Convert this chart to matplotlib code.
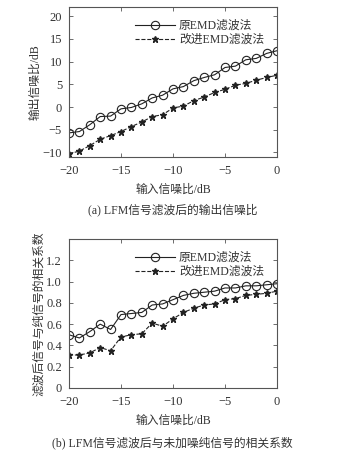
import matplotlib
matplotlib.use("Agg")
import matplotlib.pyplot as plt
import numpy as np

plt.rcParams['font.family'] = ['Liberation Serif', 'Noto Sans CJK SC']
plt.rcParams['axes.unicode_minus'] = True

snr_in = [-20, -19, -18, -17, -16, -15, -14, -13, -12, -11, -10,
          -9, -8, -7, -6, -5, -4, -3, -2, -1, 0]

snr_orig = [-5.7, -5.4, -3.9, -2.1, -2.0, -0.4, -0.1, 0.7, 2.0, 2.6, 4.0,
            4.5, 5.8, 6.5, 7.1, 8.7, 9.0, 10.4, 10.7, 11.8, 12.4]
snr_impr = [-10.3, -9.7, -8.5, -7.1, -6.3, -5.4, -4.3, -3.3, -2.1, -1.7, -0.2,
            0.2, 1.4, 2.2, 3.2, 3.9, 4.8, 5.2, 5.9, 6.5, 7.0]

corr_orig = [0.50, 0.47, 0.53, 0.60, 0.55, 0.69, 0.70, 0.71, 0.78, 0.79, 0.83,
             0.87, 0.89, 0.90, 0.91, 0.94, 0.94, 0.96, 0.96, 0.97, 0.98]
corr_impr = [0.31, 0.31, 0.33, 0.38, 0.35, 0.48, 0.50, 0.51, 0.61, 0.58, 0.65,
             0.71, 0.75, 0.78, 0.79, 0.83, 0.84, 0.87, 0.88, 0.89, 0.91]

labels = ['原EMD滤波法', '改进EMD滤波法']
xticks = [-20, -15, -10, -5, 0]
yticks_a = [-10, -5, 0, 5, 10, 15, 20]
yticks_b = [0, 0.2, 0.4, 0.6, 0.8, 1.0, 1.2]
ytick_labels_b = ['0', '0.2', '0.4', '0.6', '0.8', '1.0', '1.2']

fc = '#333333'
fs = 8.5
tfs = 9

fig = plt.figure(figsize=(3.45, 4.57), dpi=100)
ax1 = fig.add_axes([0.2, 0.6565, 0.603, 0.328])
ax2 = fig.add_axes([0.2, 0.151, 0.603, 0.326])

def style(ax):
    for s in ax.spines.values():
        s.set_color('#555555')
        s.set_linewidth(0.8)
    ax.tick_params(direction='in', top=True, right=True, length=3,
                   width=0.6, colors='#555555', labelcolor=fc, labelsize=tfs)
    ax.tick_params(axis='x', pad=6)
    ax.tick_params(axis='y', pad=5)
    ax.set_xlim(-20, 0)
    ax.set_xticks(xticks)
    ax.set_xticklabels(['\u221220', '\u221215', '\u221210', '\u22125', '0'])

# (a)
ax1.plot(snr_in, snr_orig, '-', color='#222222', lw=0.8, marker='o',
         mfc='none', mec='#222222', ms=6, mew=0.8, label=labels[0])
ax1.plot(snr_in, snr_impr, '--', color='#222222', lw=0.8, marker='*',
         mfc='#222222', mec='#222222', ms=5, label=labels[1])
style(ax1)
ax1.set_ylim(-11, 22)
ax1.set_yticks(yticks_a)
ax1.set_yticklabels(['\u221210', '\u22125', '0', '5', '10', '15', '20'])
ax1.set_xlabel('输入信噪比/dB', fontsize=fs, color=fc, labelpad=5)
ax1.set_ylabel('输出信噪比/dB', fontsize=fs, color=fc, labelpad=1)
ax1.legend(loc='upper right', frameon=False, fontsize=fs, handlelength=3.4,
           labelcolor=fc, borderaxespad=0.7, handletextpad=0.3,
           labelspacing=0.15)
fig.text(0.5, 1 - 210 / 457, '(a) LFM信号滤波后的输出信噪比', ha='center',
         va='center', fontsize=fs, color=fc)

# (b)
ax2.plot(snr_in, corr_orig, '-', color='#222222', lw=0.8, marker='o',
         mfc='none', mec='#222222', ms=6, mew=0.8, label=labels[0])
ax2.plot(snr_in, corr_impr, '--', color='#222222', lw=0.8, marker='*',
         mfc='#222222', mec='#222222', ms=5, label=labels[1])
style(ax2)
ax2.set_ylim(0, 1.4)
ax2.set_yticks(yticks_b)
ax2.set_yticklabels(ytick_labels_b)
ax2.set_xlabel('输入信噪比/dB', fontsize=fs, color=fc, labelpad=5)
ax2.set_ylabel('滤波后信号与纯信号的相关系数', fontsize=fs, color=fc, labelpad=1)
ax2.legend(loc='upper right', frameon=False, fontsize=fs, handlelength=3.4,
           labelcolor=fc, borderaxespad=0.7, handletextpad=0.3,
           labelspacing=0.15)
fig.text(0.5, 1 - 443 / 457, '(b) LFM信号滤波后与未加噪纯信号的相关系数',
         ha='center', va='center', fontsize=fs, color=fc)

fig.savefig('out.png', dpi=100, facecolor='white')
